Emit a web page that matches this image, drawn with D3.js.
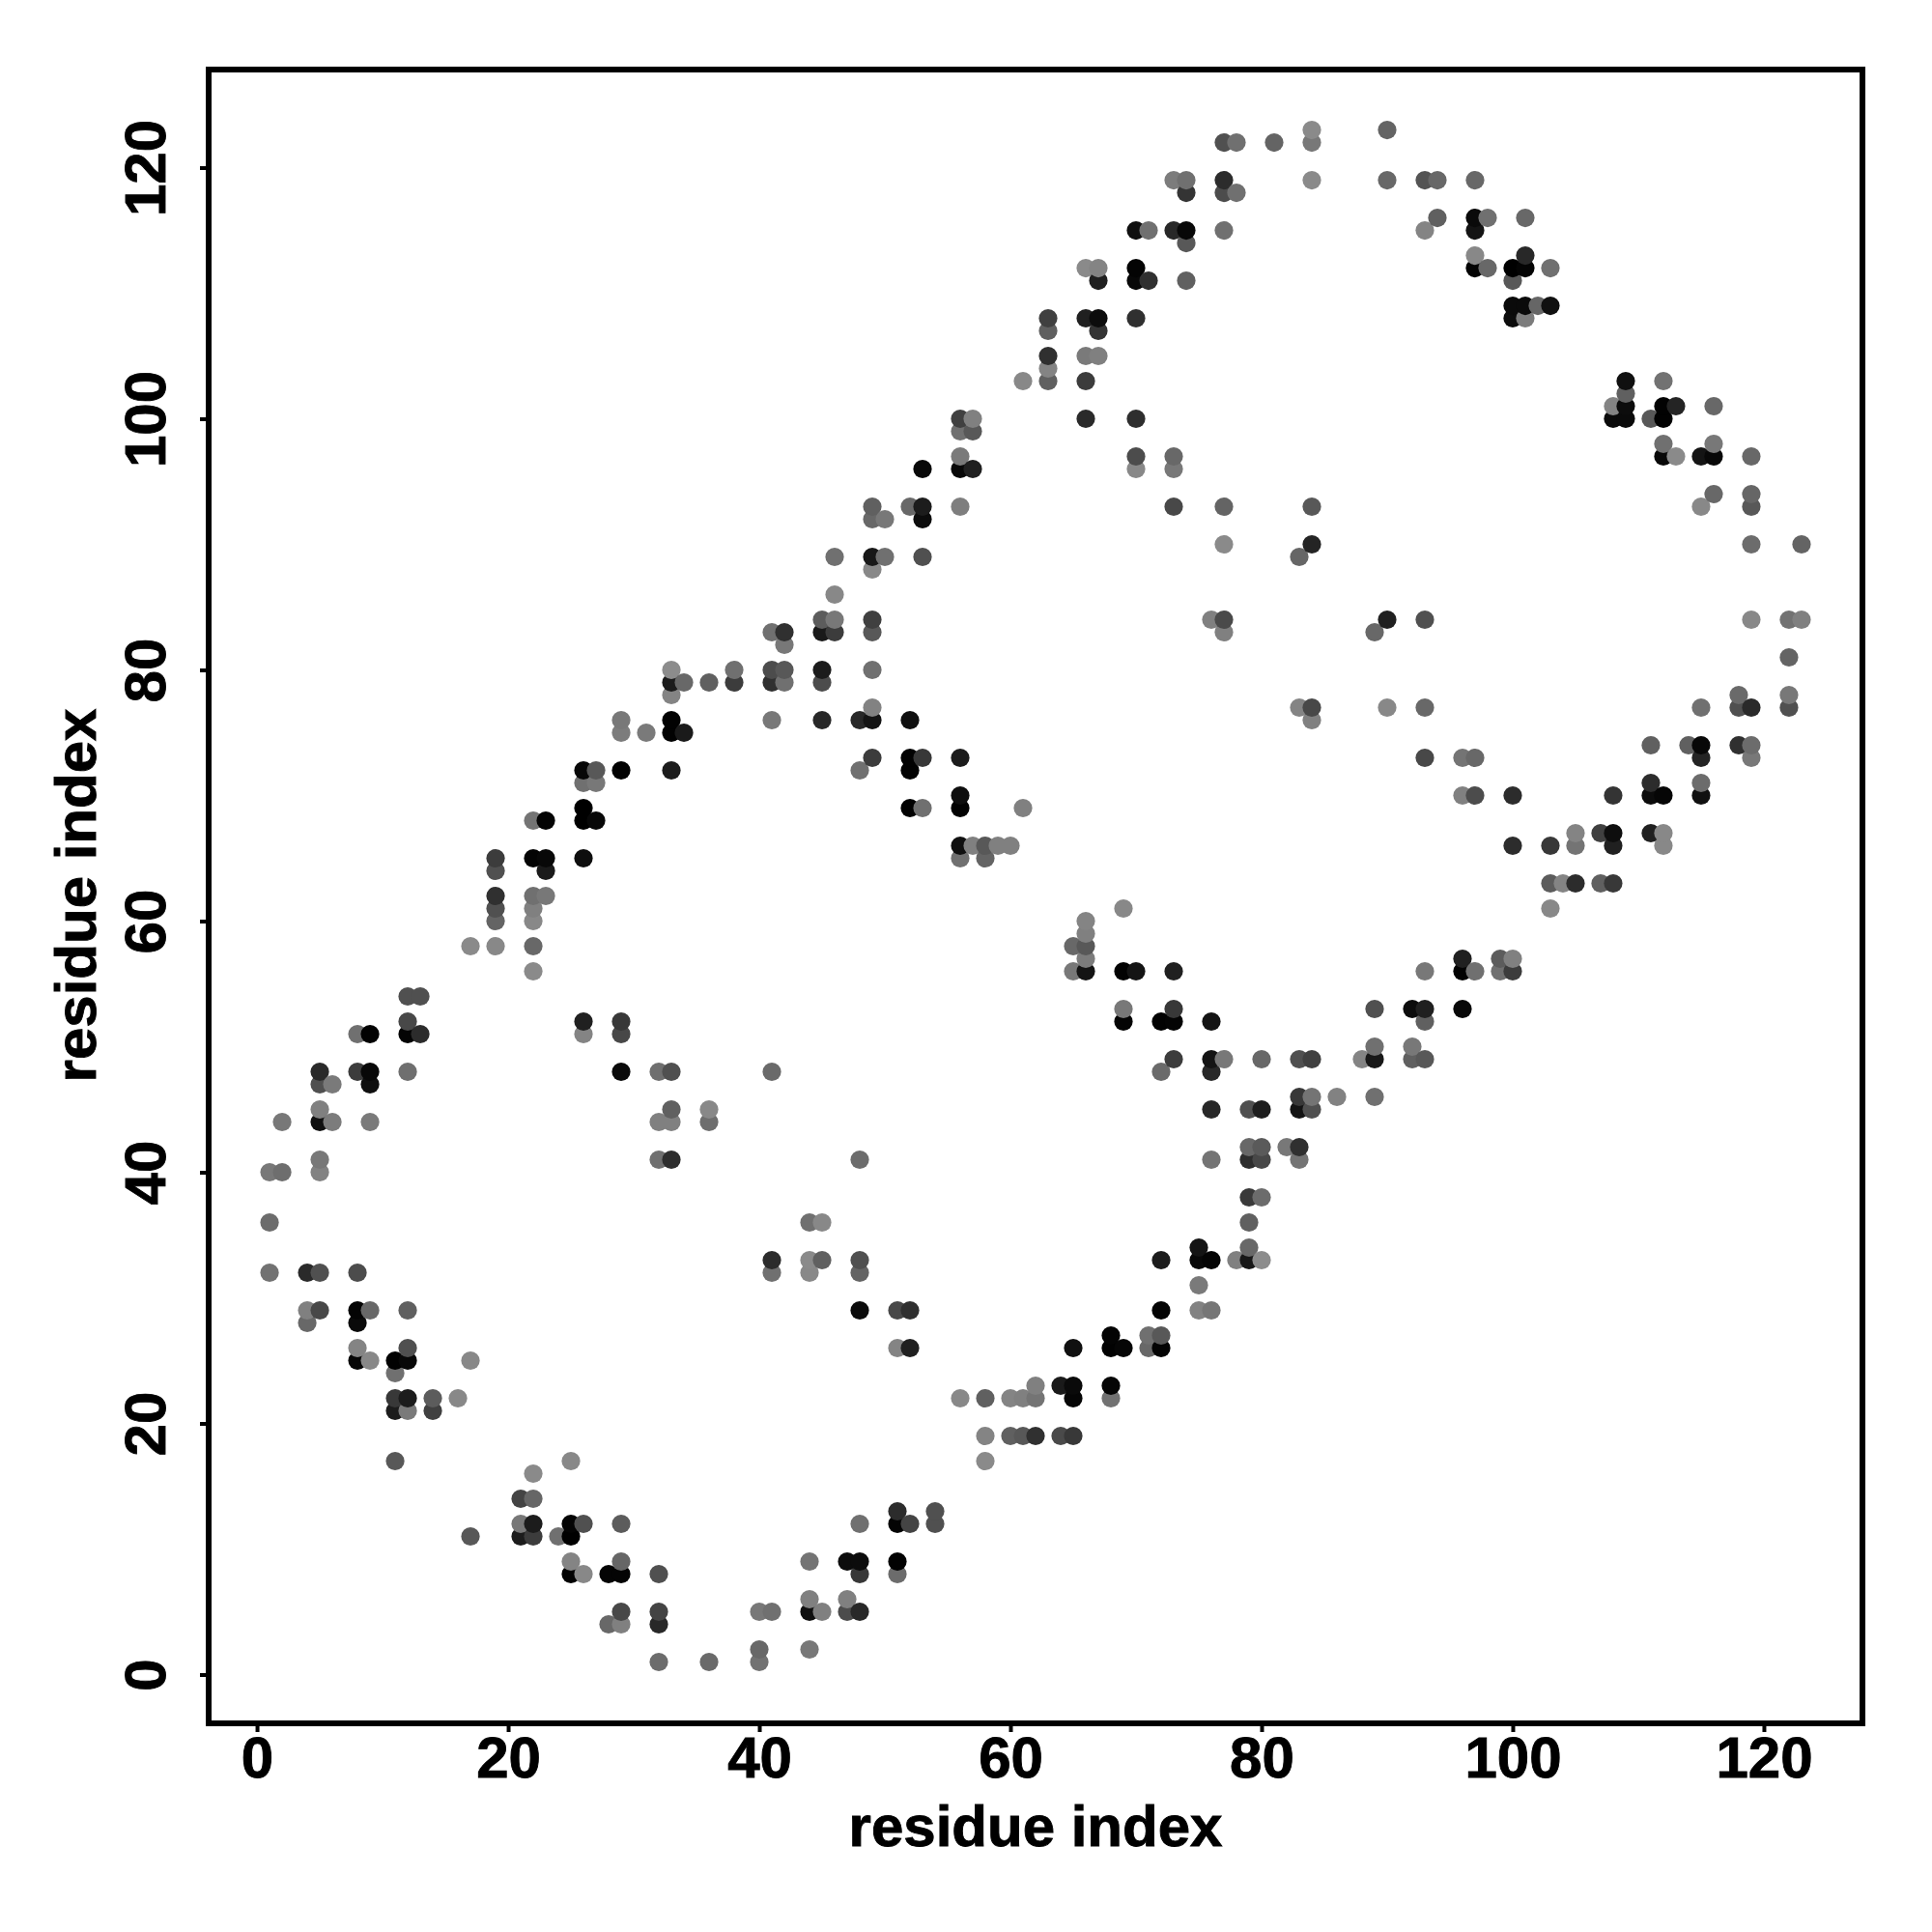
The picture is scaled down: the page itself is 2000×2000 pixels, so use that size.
<!DOCTYPE html>
<html><head><meta charset="utf-8">
<script src="https://cdn.jsdelivr.net/npm/d3@7"></script>
<style>html,body{margin:0;padding:0;background:#fff}svg{display:block}text{font-family:"Liberation Sans",Arial,sans-serif;font-weight:bold;fill:#000;stroke:#000;stroke-width:0.9px}</style>
</head><body><svg id="c" width="2000" height="2000"></svg>
<script>
const xTicks = [0,20,40,60,80,100,120];
const yTicks = [0,20,40,60,80,100,120];
const xTitle = "residue index", yTitle = "residue index";
const rowY = [123,122,119,118,116,115,114,113,112,111,109,108,107,105,104,103,102,101,100,99,98,97,96,94,93,92,90,89,88,86,84,83,82,81,80,79,78,77,76,75,74,73,72,71,70,69,68,67,66,65,64,63,62,61,60,59,58,57,56,54,53,52,51,50,49,48,47,46,45,44,42,41,40,38,36,34,33,32,31,29,28,27,26,25,24,23,22,21,19,17,16,14,13,12,11,9,8,6,5,4,2,1];
const rowX = [
[84,90],[77,78,81,84],[73,74,77,84,90,93,94,97],[74,77,78],[94,97,98,101],[70,71,73,74,77,93,97],[74],[97,101],
[66,67,70,97,98,100,101,103],[67,70,71,74,100],[100,101,102,103],[63,66,67,70,100,101],[63,67],[63,66,67],[63],
[61,63,66,109,112],[109],[108,109,112,113,116],[56,57,66,70,108,109,111,112],[56,57],[112,116],[56,70,73,112,113,115,116,119],
[53,56,57,70,73],[116,119],[49,52,53,56,73,77,84,115,119],[49,50,53],[77,84,119,123],[46,49,50,53,83],[49],[46],
[45,46,49,76,77,90,93,119,122,123],[41,42,45,46,49,77,89],[42],[122],[33,38,41,42,45,49],[33,34,36,38,41,42,45],[33,118,122],
[49,83,84,90,93,115,118,119,122],[29,33,41,45,48,49,52,84],[29,31,33,34],[111,114,115,118,119],[49,52,53,56,93,96,97,115,119],
[26,27,29,33,48,52],[26,27,111,115],[56,96,97,100,108,111,112,115],[26,52,53,56,61],[22,23,26,27],[105,107,108,111,112],
[56,57,58,59,60,100,103,105,108,112],[19,22,23,26,56,58],[19,23],[103,104,105,107,108],[19,22,23],[19,22,69,103],[19,22,66],[66],
[17,19,22,65,66],[66,96,99,100],[22,65,66,69,70,73,93,96,97,99,100],[12,13],[69,73,89,92,93,96],[12,26,29,69,72,73,76,93],
[8,9,12,13,26,29],[89,92],[73,76,77,80,83,84,88,89,92,93],[5,8,9,12,29,32,33,41,72,76],[5,6,9],[83,84,86,89],
[5,33,36,76,79,80,83,84],[2,5,6,9,32,33,36],[79,80,82,83],[5,32,33,48,76,79,80,83],[1,2,5],[79,80],[1,44,45,79],[75,79],
[41,44,45,48,72,75,76,78,79,80],[1,4,5,8,41,44,48],[75],[4,5,8,9,12,48,51,52,72,75,76],[4,8],[68,71,72],
[8,12,51,52,65,68,69,71,72],[8,9,11,12,17],[11],[62,64,65,68],[11,12,14,16,56,58,60,61,62,65,68],[11,12,14],
[58,60,61,62,64,65],[11,25,58],[22],[21,22],[51,54],[21,22,25,26,29,48,51,52,54],[17,21,22,24,25],[25,29,44,47,48,51],
[25,26,28,29,32,48,51],[44,47],[29,32,40,41,44,45,47,48],[28,29,32],[40,44],[32,36,40]
];
// depth: 0 = strongest contact, 140 = weakest contact
const rowDepth = [
[0x8a,0x64],[0x50,0x70,0x64,0x78],[0x7c,0x70,0x2c,0x8a,0x68,0x54,0x68,0x68],[0x34,0x4c,0x70],[0x60,0x0a,0x70,0x68],[0x10,0x70,0x28,0x08,0x70,0x84,0x14],[0x58],[0x88,0x28],
[0x8a,0x84,0x04,0x04,0x68,0x00,0x04,0x70],[0x20,0x08,0x30,0x60,0x58],[0x0a,0x0a,0x66,0x10],[0x40,0x20,0x0c,0x30,0x0c,0x7c],[0x60,0x34],[0x30,0x7a,0x80],[0x84],
[0x88,0x60,0x3c,0x10,0x72],[0x60],[0x84,0x0c,0x02,0x24,0x68],[0x40,0x80,0x2a,0x2e,0x0a,0x0a,0x58,0x02],[0x70,0x58],[0x70,0x78],[0x7a,0x4c,0x68,0x08,0x8a,0x14,0x08,0x68],
[0x08,0x08,0x20,0x88,0x78],[0x68,0x66],[0x60,0x68,0x1c,0x7e,0x48,0x64,0x58,0x88,0x58],[0x68,0x78,0x0c],[0x8a,0x24,0x6c,0x64],[0x70,0x18,0x70,0x50,0x66],[0x88],[0x88],
[0x5c,0x78,0x40,0x80,0x4a,0x20,0x50,0x88,0x72,0x80],[0x70,0x30,0x1a,0x3c,0x58,0x80,0x68],[0x78],[0x64],[0x8c,0x70,0x4c,0x58,0x1c,0x70],[0x1c,0x68,0x60,0x3c,0x30,0x70,0x4c],[0x84,0x6a,0x78],
[0x82,0x84,0x48,0x88,0x68,0x70,0x50,0x2a,0x50],[0x78,0x02,0x78,0x28,0x28,0x14,0x10,0x80],[0x7c,0x7a,0x02,0x1a],[0x60,0x60,0x08,0x30,0x6c],[0x3c,0x02,0x38,0x1c,0x48,0x74,0x68,0x24,0x78],
[0x08,0x58,0x02,0x1c,0x70,0x02],[0x70,0x78,0x2c,0x6c],[0x0e,0x80,0x4c,0x2c,0x34,0x0c,0x06,0x10],[0x00,0x02,0x70,0x02,0x80],[0x74,0x04,0x00,0x08],[0x84,0x40,0x0e,0x20,0x88],
[0x10,0x80,0x58,0x80,0x80,0x2c,0x38,0x74,0x20,0x88],[0x3c,0x04,0x08,0x0e,0x70,0x64],[0x50,0x1a],[0x5c,0x84,0x2c,0x60,0x38],[0x30,0x70,0x78],[0x50,0x80,0x88,0x88],[0x64,0x88,0x84],[0x80],
[0x8a,0x88,0x68,0x68,0x58],[0x7c,0x20,0x5c,0x80],[0x8a,0x78,0x14,0x02,0x14,0x20,0x78,0x02,0x70,0x70,0x3c],[0x50,0x50],[0x78,0x38,0x50,0x0c,0x20,0x08],[0x48,0x20,0x38,0x04,0x02,0x04,0x14,0x60],
[0x70,0x02,0x04,0x2c,0x84,0x48],[0x70,0x78],[0x3c,0x14,0x78,0x68,0x50,0x40,0x84,0x18,0x60,0x58],[0x2a,0x3c,0x08,0x6f,0x0a,0x6f,0x50,0x6a,0x6a,0x28],[0x50,0x7a,0x0f],[0x38,0x74,0x82,0x70],
[0x80,0x60,0x88,0x28,0x50,0x1e,0x14,0x50],[0x78,0x10,0x7c,0x7a,0x80,0x80,0x6e],[0x68,0x5a,0x78,0x30],[0x78,0x70,0x2e,0x6c,0x74,0x2e,0x48,0x74],[0x78,0x6e,0x82],[0x3a,0x6c],[0x6c,0x70,0x88,0x60],[0x14,0x68],
[0x2c,0x8a,0x60,0x50,0x1c,0x08,0x04,0x80,0x18,0x8c],[0x72,0x2a,0x50,0x4c,0x70,0x88,0x64],[0x7a],[0x80,0x48,0x04,0x68,0x60,0x0c,0x48,0x30,0x04,0x82,0x76],[0x68,0x0a],[0x04,0x70,0x58],
[0x84,0x50,0x84,0x20,0x10,0x02,0x06,0x68,0x04],[0x06,0x88,0x02,0x08,0x88],[0x70],[0x80,0x1a,0x0a,0x06],[0x38,0x1c,0x5c,0x88,0x88,0x60,0x84,0x80,0x74,0x06,0x72],[0x1c,0x7a,0x40],
[0x84,0x60,0x58,0x30,0x4a,0x38],[0x58,0x88,0x8a],[0x8a],[0x44,0x66],[0x2c,0x50],[0x78,0x1c,0x04,0x50,0x5c,0x70,0x04,0x44,0x50],[0x58,0x1c,0x3c,0x70,0x00],[0x84,0x66,0x74,0x0c,0x0c,0x02],
[0x02,0x88,0x04,0x04,0x50,0x38,0x6c],[0x80,0x80],[0x48,0x44,0x78,0x70,0x10,0x80,0x4c,0x28],[0x68,0x80,0x28],[0x68,0x78],[0x6c,0x6a,0x72]
];

const points = [];
rowY.forEach((y,i)=>rowX[i].forEach((x,j)=>points.push({x,y,d:rowDepth[i][j]})));
points.sort((a,b)=>d3.ascending(a.x,b.x)||d3.ascending(a.y,b.y));

const frame = {l:216,r:1928,t:72,b:1784};
const x = d3.scaleLinear().domain([-3.85,127.85]).range([frame.l,frame.r]);
const y = d3.scaleLinear().domain([-3.885,127.81]).range([frame.b,frame.t]);
const shade = d3.scaleLinear().domain([0,140]).range(["#000000","#8c8c8c"]);
const svg = d3.select("#c");

svg.append("g").selectAll("circle").data(points).join("circle")
  .attr("cx",d=>x(d.x)).attr("cy",d=>y(d.y)).attr("r",9.6).attr("fill",d=>shade(d.d));

svg.append("rect").attr("x",frame.l).attr("y",frame.t)
  .attr("width",frame.r-frame.l).attr("height",frame.b-frame.t)
  .attr("fill","none").attr("stroke","#000").attr("stroke-width",6);

const gx = svg.append("g").attr("transform",`translate(0,${frame.b})`)
  .call(d3.axisBottom(x).tickValues(xTicks).tickSize(9).tickPadding(0));
gx.select(".domain").remove();
gx.selectAll("line").attr("stroke-width",4).attr("stroke","#000");
gx.selectAll("text").attr("y",0).attr("dy",0).attr("transform","translate(0,56)")
  .attr("font-size",60).attr("text-anchor","middle");

const gy = svg.append("g").attr("transform",`translate(${frame.l},0)`)
  .call(d3.axisLeft(y).tickValues(yTicks).tickSize(9).tickPadding(0));
gy.select(".domain").remove();
gy.selectAll("line").attr("stroke-width",4).attr("stroke","#000");
gy.selectAll("text").attr("x",0).attr("dy",0)
  .attr("transform","translate(-45,0) rotate(-90)")
  .attr("font-size",60).attr("text-anchor","middle");

svg.append("text").attr("x",1072).attr("y",1911).attr("text-anchor","middle").attr("font-size",60).text(xTitle);
svg.append("text").attr("transform","translate(99,927) rotate(-90)").attr("text-anchor","middle").attr("font-size",60).text(yTitle);
</script></body></html>
